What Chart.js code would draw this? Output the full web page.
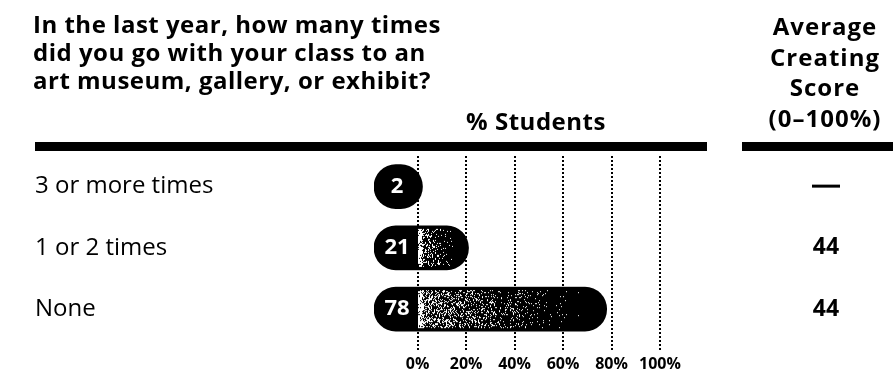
<!DOCTYPE html>
<html lang="en">
<head>
<meta charset="UTF-8">
<title>Class visits to an art museum, gallery, or exhibit</title>
<script src="https://cdn.jsdelivr.net/npm/chart.js"></script>
<style>
  html, body { margin: 0; padding: 0; background: #fff; }
  #wrap { width: 893px; height: 377px; position: relative; }
</style>
</head>
<body>
<div id="wrap"><canvas id="myChart"></canvas></div>
<script>
// data
const categories = ['3 or more times', '1 or 2 times', 'None'];
const percentStudents = [2, 21, 78];
const creatingScores = [null, 44, 44];   // null = no score reported
const percentTicks = [0, 20, 40, 60, 80, 100];
const questionLines = [
  'In the last year, how many times',
  'did you go with your class to an',
  'art museum, gallery, or exhibit?'
];
const studentsHeader = '% Students';
const scoreHeaderLines = ['Average', 'Creating', 'Score', '(0–100%)'];

const pillStart = -18;   // pills start left of 0 so the number fits inside
const PILL_H = 44;
const FONT = '"Open Sans", Lato, sans-serif';

// fixed grain for the print-like texture
function grainAt(a, b) {
  const s = Math.sin(a * 127.1 + b * 311.7) * 43758.5453;
  return s - Math.floor(s);
}

// black pill with a speckled stretch after the number that thins out to the right
function pillFill(c) {
  const chart = c.chart;
  const x = chart.scales.x, y = chart.scales.y;
  if (!x || !y || c.type !== 'data') return '#000';
  const i = c.dataIndex;
  const left = x.getPixelForValue(pillStart);
  const zero = x.getPixelForValue(0);
  const right = x.getPixelForValue(percentStudents[i]);
  const mid = y.getPixelForValue(i);
  if (![left, zero, right, mid].every(Number.isFinite)) return '#000';
  const run = right - zero - 12;
  if (run < 10) return '#000';

  const w = Math.ceil(right - left) + 2, h = PILL_H + 2;
  const cv = document.createElement('canvas');
  cv.width = w; cv.height = h;
  const g = cv.getContext('2d');
  g.fillStyle = '#000';
  g.fillRect(0, 0, w, h);
  const img = g.getImageData(0, 0, w, h);
  const x0 = zero - left + 2;
  for (let py = 4; py < h - 4; py++) {
    const edge = 2 + 3 * grainAt(py, 7);
    for (let px = Math.floor(x0); px < x0 + run; px++) {
      const t = (px - x0) / run;
      let d = 0.45 * Math.pow(1 - t, 1.8);
      if (px - x0 < edge) d = 0.85;
      if (grainAt(px + i * 97, py) < d) {
        const k = (py * w + px) * 4;
        img.data[k] = img.data[k + 1] = img.data[k + 2] = 255;
      }
    }
  }
  g.putImageData(img, 0, 0);
  const pat = chart.ctx.createPattern(cv, 'no-repeat');
  pat.setTransform(new DOMMatrix([1, 0, 0, 1, left - 1, mid - h / 2]));
  return pat;
}

// headings, rules, numbers in the pills and the score column
const decorations = {
  id: 'decorations',
  afterDraw(chart) {
    const ctx = chart.ctx;
    const x = chart.scales.x, y = chart.scales.y;
    ctx.save();
    ctx.fillStyle = '#000';

    ctx.font = 'bold 24px ' + FONT;
    ctx.letterSpacing = '0.5px';
    ctx.textAlign = 'left';
    ctx.textBaseline = 'alphabetic';
    questionLines.forEach((t, i) => ctx.fillText(t, 33, 33 + i * 28));

    ctx.textAlign = 'center';
    ctx.fillText(studentsHeader, 536, 130);
    ctx.letterSpacing = '1px';
    scoreHeaderLines.forEach((t, i) => ctx.fillText(t, 825, 35 + i * 30.5));
    ctx.letterSpacing = '0px';

    ctx.fillRect(35, 142, 672, 9);
    ctx.fillRect(742, 142, 151, 9);

    // score column
    ctx.font = 'bold 23px ' + FONT;
    ctx.textBaseline = 'middle';
    creatingScores.forEach((s, i) => {
      const py = y.getPixelForValue(i);
      if (s === null) {
        ctx.fillRect(812, py - 2, 28, 3);
      } else {
        ctx.fillText(String(s), 826, py);
      }
    });

    // values inside the pills
    ctx.fillStyle = '#fff';
    ctx.font = 'bold 22px ' + FONT;
    const labelX = x.getPixelForValue(pillStart) + 23;
    percentStudents.forEach((v, i) => {
      ctx.fillText(String(v), labelX, y.getPixelForValue(i));
    });
    ctx.restore();
  }
};

new Chart(document.getElementById('myChart'), {
  type: 'bar',
  data: {
    labels: categories,
    datasets: [{
      data: percentStudents.map(v => [pillStart, v]),
      backgroundColor: pillFill,
      borderSkipped: false,
      borderRadius: 22,
      barThickness: PILL_H
    }]
  },
  options: {
    indexAxis: 'y',
    responsive: true,
    maintainAspectRatio: false,
    animation: false,
    layout: { padding: { left: 35, right: 233, top: 156, bottom: 0 } },
    plugins: { legend: { display: false }, tooltip: { enabled: false } },
    scales: {
      x: {
        type: 'linear',
        min: pillStart,
        max: 100,
        afterBuildTicks: s => { s.ticks = percentTicks.map(v => ({ value: v })); },
        grid: {
          color: '#000',
          lineWidth: 2,
          tickLength: 12,
          tickColor: '#000',
          tickWidth: 2,
          tickBorderDash: [2, 2]
        },
        border: { display: false, dash: [2, 2] },
        ticks: {
          color: '#000',
          padding: 3,
          maxRotation: 0,
          font: { family: FONT, size: 16, weight: 'bold' },
          callback: v => v + '%'
        }
      },
      y: {
        type: 'category',
        grid: { display: false },
        border: { display: false },
        afterFit: s => { s.width = 374 - 35; },
        ticks: {
          crossAlign: 'far',
          color: '#000',
          font: { family: FONT, size: 24 }
        }
      }
    }
  },
  plugins: [decorations]
});
</script>
</body>
</html>
